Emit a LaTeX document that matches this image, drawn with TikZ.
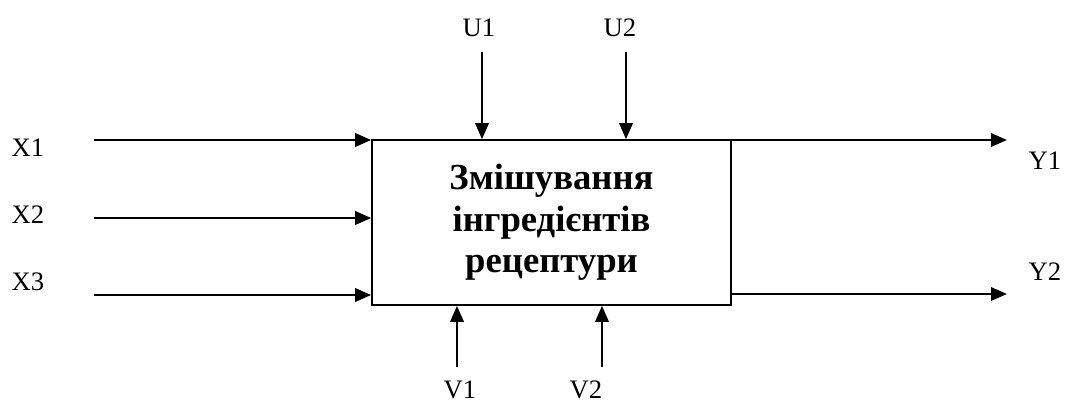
\documentclass[tikz,border=0pt]{standalone}
\usepackage{fontspec}
\setmainfont{Liberation Serif}
\usetikzlibrary{arrows.meta}
\tikzset{
    flow/.style={line width=1.8pt, -{Triangle[length=12pt, width=10pt]}},
    sig/.style={font=\fontsize{20}{22}\selectfont, inner sep=0pt},
}

\begin{document}
\begin{tikzpicture}[x=0.75pt, y=-0.75pt]
    \useasboundingbox (0,0) rectangle (1066,403);
    %
    \node[draw, line width=1.2pt, minimum width=359*0.75pt, minimum height=165*0.75pt,
        align=center, font=\bfseries\fontsize{27.5}{31}\selectfont] (mix) at (551.5,222.5)
        {Змішування\\інгредієнтів\\рецептури};
    %
    \coordinate (inX1) at (94,140);
    \coordinate (inX2) at (94,218);
    \coordinate (inX3) at (94,295);
    \coordinate (outY1) at (1007,140);
    \coordinate (outY2) at (1007,294);
    \coordinate (inU1) at (482,52);
    \coordinate (inU2) at (626,52);
    \coordinate (inV1) at (457,367);
    \coordinate (inV2) at (602,367);
    %
    \node[sig] (labX1) at (28,148) {X1};
    \node[sig] (labX2) at (28,215) {X2};
    \node[sig] (labX3) at (28,282) {X3};
    \node[sig] (labY1) at (1045,161) {Y1};
    \node[sig] (labY2) at (1045,272) {Y2};
    \node[sig] (labU1) at (479,28) {U1};
    \node[sig] (labU2) at (620,28) {U2};
    \node[sig] (labV1) at (460,390) {V1};
    \node[sig] (labV2) at (586,390) {V2};
    %
    \draw[flow] (inX1) -- (inX1 -| mix.west);
    \draw[flow] (inX2) -- (inX2 -| mix.west);
    \draw[flow] (inX3) -- (inX3 -| mix.west);
    \draw[flow] (outY1 -| mix.east) -- (outY1);
    \draw[flow] (outY2 -| mix.east) -- (outY2);
    \draw[flow] (inU1) -- (inU1 |- mix.north);
    \draw[flow] (inU2) -- (inU2 |- mix.north);
    \draw[flow] (inV1) -- (inV1 |- mix.south);
    \draw[flow] (inV2) -- (inV2 |- mix.south);
\end{tikzpicture}
\end{document}
